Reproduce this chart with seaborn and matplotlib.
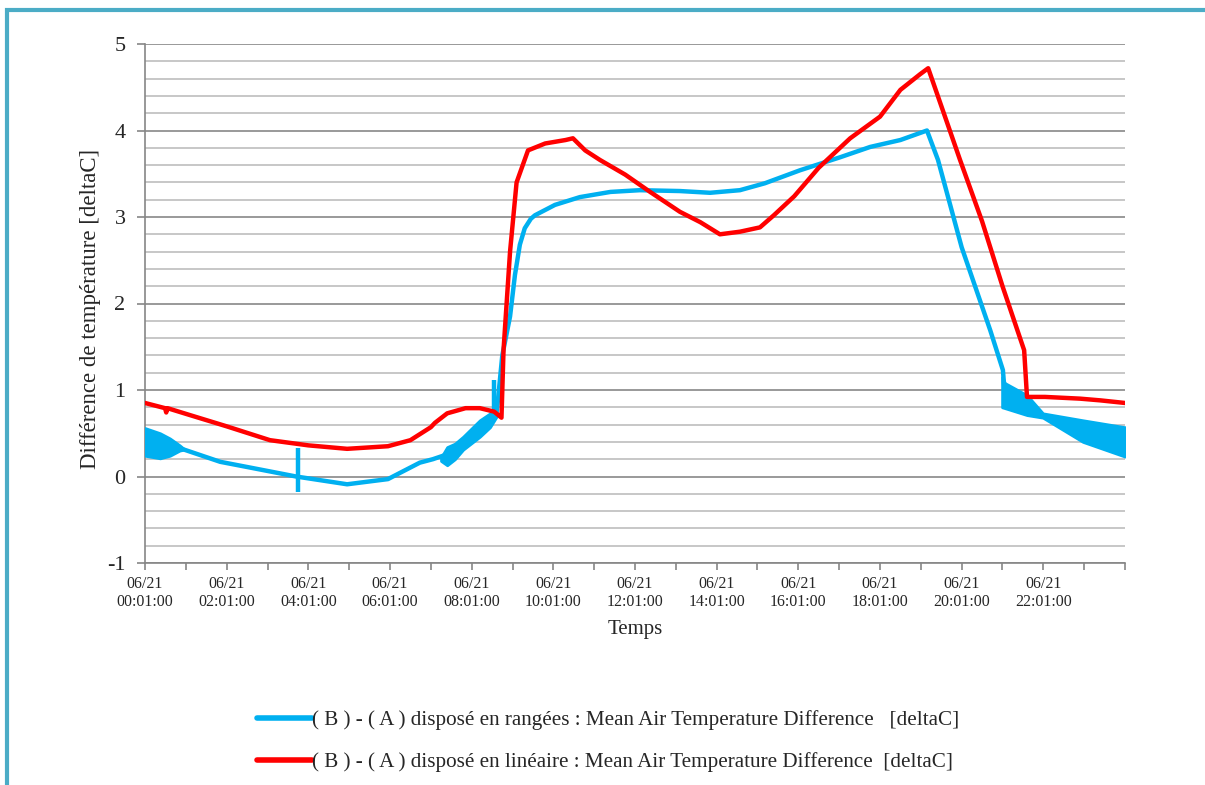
import pandas as pd
import numpy as np
import matplotlib
matplotlib.use("Agg")
import matplotlib.pyplot as plt
import seaborn as sns
from matplotlib.lines import Line2D
from matplotlib.patches import Rectangle

# series labels
label_blue = "( B ) - ( A ) disposé en rangées : Mean Air Temperature Difference   [deltaC]"
label_red = "( B ) - ( A ) disposé en linéaire : Mean Air Temperature Difference  [deltaC]"

# red curve (hours after 00:01, deltaC)
red_h = [0, 0.49, 0.52, 0.55, 1.1, 2.0, 3.06, 4.0, 4.95, 5.95, 6.5, 7.0, 7.1, 7.4, 7.85, 8.2,
         8.55, 8.73, 8.78, 8.94, 9.1, 9.38, 9.8, 10.3, 10.48, 10.78, 11.14, 11.76, 12.37, 13.1,
         13.6, 14.08, 14.57, 15.06, 15.4, 15.9, 16.5, 17.27, 18.0, 18.5, 18.98, 19.18, 19.96,
         20.5, 21.0, 21.53, 21.6, 22.04, 22.9, 23.4, 24.0]
red_v = [0.85, 0.79, 0.74, 0.79, 0.71, 0.58, 0.42, 0.36, 0.32, 0.35, 0.42, 0.57, 0.62, 0.73,
         0.79, 0.79, 0.75, 0.68, 1.46, 2.6, 3.4, 3.77, 3.85, 3.89, 3.91, 3.77, 3.66, 3.49, 3.29,
         3.06, 2.94, 2.80, 2.83, 2.88, 3.02, 3.24, 3.57, 3.91, 4.16, 4.47, 4.65, 4.72, 3.66,
         2.95, 2.2, 1.46, 0.92, 0.92, 0.90, 0.88, 0.85]

# blue curve (centre line)
blue_h = [0, 0.45, 0.9, 1.84, 2.5, 3.7, 4.95, 5.95, 6.73, 7.05, 7.3, 7.6, 7.9, 8.2, 8.45, 8.62,
          8.75, 8.94, 9.06, 9.18, 9.3, 9.45, 9.55, 10.04, 10.65, 11.4, 12.12, 13.1, 13.84, 14.57,
          15.18, 16.04, 17.02, 17.76, 18.5, 19.15, 19.42, 20.0, 20.7, 21.01, 21.06, 21.6, 22.0,
          23.0, 24.0]
blue_v = [0.40, 0.34, 0.32, 0.17, 0.11, 0.0, -0.09, -0.03, 0.16, 0.20, 0.24, 0.29, 0.39, 0.55,
          0.65, 0.77, 1.4, 1.85, 2.33, 2.68, 2.87, 2.98, 3.02, 3.14, 3.23, 3.29, 3.31, 3.30, 3.28,
          3.31, 3.39, 3.54, 3.69, 3.81, 3.89, 4.0, 3.66, 2.65, 1.69, 1.23, 0.93, 0.82, 0.70, 0.53,
          0.40]

# blue oscillating bands (lower / upper envelope)
band1_h = [0, 0.37, 0.61, 0.85, 0.95]
band1_lo = [0.24, 0.21, 0.24, 0.30, 0.31]
band1_hi = [0.56, 0.50, 0.44, 0.36, 0.32]

band2_h = [7.25, 7.4, 7.59, 7.79, 8.2, 8.45, 8.62]
band2_lo = [0.18, 0.13, 0.20, 0.31, 0.46, 0.57, 0.70]
band2_hi = [0.22, 0.34, 0.38, 0.46, 0.65, 0.73, 0.80]

band3_h = [20.99, 21.06, 21.6, 21.99, 22.97, 24.0]
band3_lo = [0.80, 0.79, 0.71, 0.68, 0.40, 0.23]
band3_hi = [1.15, 1.08, 0.94, 0.73, 0.65, 0.57]

# short vertical spikes on the blue curve
spike_h = [3.75, 8.55]
spike_lo = [-0.18, 0.70]
spike_hi = [0.33, 1.12]

tick_hours = list(range(0, 24, 2))
tick_labels = [f"06/21\n{h:02d}:01:00" for h in tick_hours]

blue = "#00B0F0"
red = "#FF0000"

df = pd.concat([
    pd.DataFrame({"h": blue_h, "v": blue_v, "serie": label_blue}),
    pd.DataFrame({"h": red_h, "v": red_v, "serie": label_red}),
])

sns.set_style("white")
plt.rcParams["font.family"] = ["Liberation Serif", "DejaVu Serif"]
plt.rcParams["axes.unicode_minus"] = False

fig = plt.figure(figsize=(12.05, 7.85), dpi=100)
ax = fig.add_axes([145 / 1205, 1 - 563 / 785, 980 / 1205, 519 / 785])

for bh, lo, hi in [(band1_h, band1_lo, band1_hi), (band2_h, band2_lo, band2_hi),
                   (band3_h, band3_lo, band3_hi)]:
    ax.fill_between(bh, lo, hi, color=blue, lw=2, edgecolor=blue, zorder=3)
ax.vlines(spike_h, spike_lo, spike_hi, color=blue, lw=3.2, zorder=3)

sns.lineplot(data=df, x="h", y="v", hue="serie", palette={label_blue: blue, label_red: red},
             estimator=None, sort=False, lw=3.2, ax=ax, legend=False, zorder=4)
for line in ax.get_lines():
    line.set_solid_joinstyle("round")
    line.set_solid_capstyle("round")

ax.set_xlim(0, 24)
ax.set_ylim(-1, 5)
ax.set_yticks(range(-1, 6))
ax.set_yticks(np.arange(-1, 5.01, 0.2), minor=True)
ax.set_xticks(tick_hours)
ax.set_xticklabels(tick_labels)
ax.set_xticks(range(0, 25), minor=True)

ax.grid(False)
ax.yaxis.grid(True, which="major", color="#878787", lw=1.2)
ax.yaxis.grid(True, which="minor", color="#BEBEBE", lw=1.2)
ax.set_axisbelow(True)

for s in ["top", "right"]:
    ax.spines[s].set_visible(False)
for s in ["left", "bottom"]:
    ax.spines[s].set_color("#868686")
    ax.spines[s].set_linewidth(1.2)

ax.tick_params(axis="y", which="major", length=6, width=1.2, color="#868686", labelsize=16, pad=8)
ax.tick_params(axis="x", which="both", length=5, width=1.2, color="#868686", direction="out")
ax.tick_params(axis="x", which="major", labelsize=11.5, pad=4)
ax.tick_params(bottom=True, left=True, which="both")
ax.tick_params(axis="y", which="minor", left=False)

ax.set_xlabel("Temps", fontsize=15)
ax.xaxis.set_label_coords(0.5, -0.11)
ax.set_ylabel("Différence de température [deltaC]", fontsize=16.5)
ax.yaxis.set_label_coords(-0.045, 0.49)

handles = [Line2D([], [], color=blue, lw=4, solid_capstyle="round"),
           Line2D([], [], color=red, lw=4, solid_capstyle="round")]
fig.legend(handles, [label_blue, label_red], loc="upper left",
           bbox_to_anchor=(238 / 1205, 1 - 691 / 785), frameon=False, fontsize=15.2,
           handlelength=2.6, handletextpad=0.0, labelspacing=1.05)

fig.patches.append(Rectangle((7.5 / 1205, -0.1), 1.2, 1 - 10 / 785 + 0.1,
                             transform=fig.transFigure, fill=False,
                             edgecolor="#4BACC6", lw=3))

plt.savefig("out.png", dpi=100)
